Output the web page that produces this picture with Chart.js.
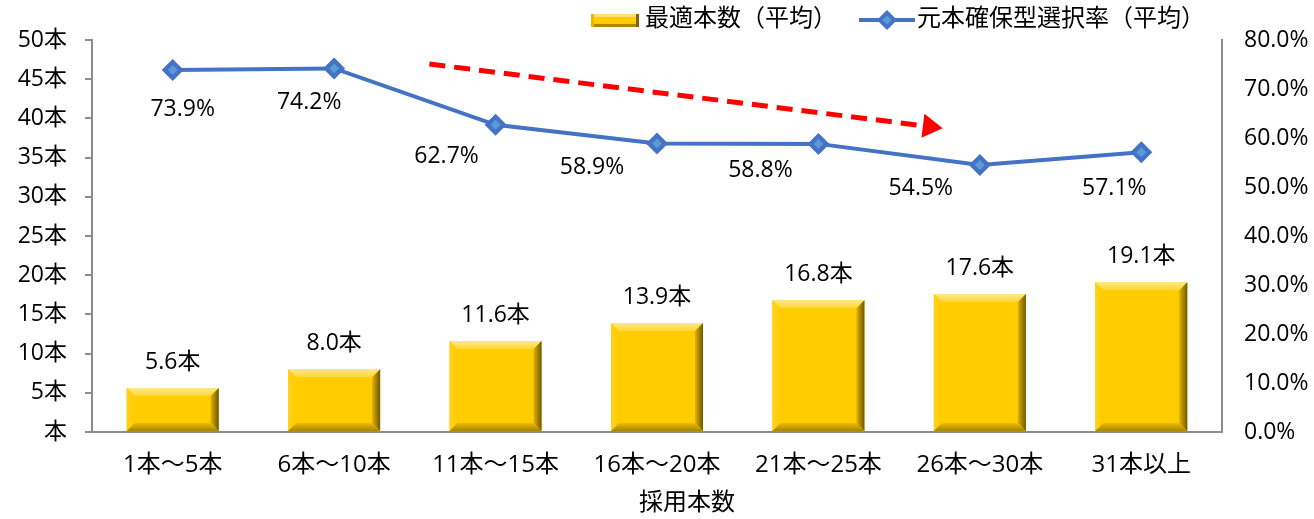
<!DOCTYPE html>
<html><head><meta charset="utf-8">
<script src="https://cdn.jsdelivr.net/npm/chart.js@4"></script>
<style>html,body{margin:0;padding:0;background:#fff;}canvas{display:block;}</style>
</head><body>
<canvas id="c" width="1314" height="519"></canvas>
<script>
const categories = ['1本～5本','6本～10本','11本～15本','16本～20本','21本～25本','26本～30本','31本以上'];
const optimalCounts = [5.6, 8.0, 11.6, 13.9, 16.8, 17.6, 19.1];
const retentionRates = [73.9, 74.2, 62.7, 58.9, 58.8, 54.5, 57.1];
const seriesNames = ['最適本数（平均）', '元本確保型選択率（平均）'];
const xTitle = '採用本数';
const leftTicks = [0,5,10,15,20,25,30,35,40,45,50];
const rightTicks = [0,10,20,30,40,50,60,70,80];
// trend arrow (annotation) in data units: [category index, percent]
const arrowFrom = [1.59, 75.1];
const arrowTo = [4.77, 62.0];

const FONT = '"Open Sans", "Noto Sans CJK JP", sans-serif';
const FS = 23;
const BLUE = '#4472C4';
// label nudges (px) for the line's data labels, as placed in the original
const lineLabelNudge = [[10,40],[-25,34],[-49,32],[-65,24],[-58,27],[-59,24],[-27,36]];

function bevelBar(ctx, x0, y0, x1, y1) {
  const b = 8;
  ctx.save();
  ctx.fillStyle = '#FFCC00';
  ctx.fillRect(x0, y0, x1 - x0, y1 - y0);
  let g = ctx.createLinearGradient(0, y0, 0, y0 + b);
  g.addColorStop(0, '#FFE88A'); g.addColorStop(1, '#FFD633');
  ctx.fillStyle = g;
  ctx.beginPath(); ctx.moveTo(x0, y0); ctx.lineTo(x1, y0); ctx.lineTo(x1 - b, y0 + b); ctx.lineTo(x0 + b, y0 + b); ctx.closePath(); ctx.fill();
  g = ctx.createLinearGradient(x0, 0, x0 + b, 0);
  g.addColorStop(0, '#FFD21A'); g.addColorStop(1, '#FFCC00');
  ctx.fillStyle = g;
  ctx.beginPath(); ctx.moveTo(x0, y0); ctx.lineTo(x0 + b, y0 + b); ctx.lineTo(x0 + b, y1 - b); ctx.lineTo(x0, y1); ctx.closePath(); ctx.fill();
  g = ctx.createLinearGradient(x1 - b, 0, x1, 0);
  g.addColorStop(0, '#E0B000'); g.addColorStop(1, '#6E5800');
  ctx.fillStyle = g;
  ctx.beginPath(); ctx.moveTo(x1, y0); ctx.lineTo(x1, y1); ctx.lineTo(x1 - b, y1 - b); ctx.lineTo(x1 - b, y0 + b); ctx.closePath(); ctx.fill();
  g = ctx.createLinearGradient(0, y1 - b, 0, y1);
  g.addColorStop(0, '#EDBB00'); g.addColorStop(1, '#A88400');
  ctx.fillStyle = g;
  ctx.beginPath(); ctx.moveTo(x0, y1); ctx.lineTo(x1, y1); ctx.lineTo(x1 - b, y1 - b); ctx.lineTo(x0 + b, y1 - b); ctx.closePath(); ctx.fill();
  ctx.restore();
}

function diamond(ctx, x, y, r) {
  ctx.save();
  ctx.fillStyle = BLUE;
  ctx.beginPath(); ctx.moveTo(x, y - r); ctx.lineTo(x + r, y); ctx.lineTo(x, y + r); ctx.lineTo(x - r, y); ctx.closePath(); ctx.fill();
  ctx.fillStyle = '#5B9BD5';
  const s = r * 0.45;
  ctx.beginPath(); ctx.moveTo(x, y - s); ctx.lineTo(x + s, y); ctx.lineTo(x, y + s); ctx.lineTo(x - s, y); ctx.closePath(); ctx.fill();
  ctx.restore();
}

function bevelBarSmall(ctx, x0, y0, x1, y1) {
  ctx.save();
  ctx.fillStyle = '#FFCC00'; ctx.fillRect(x0, y0, x1 - x0, y1 - y0);
  ctx.fillStyle = '#FFE070'; ctx.fillRect(x0, y0, x1 - x0, 3);
  ctx.fillStyle = '#B08800'; ctx.fillRect(x0, y1 - 3, x1 - x0, 3);
  ctx.fillStyle = '#E8B800'; ctx.fillRect(x0, y0, 3, y1 - y0);
  ctx.fillStyle = '#806400'; ctx.fillRect(x1 - 3, y0, 3, y1 - y0);
  ctx.restore();
}

const customDraw = {
  id: 'customDraw',
  beforeDatasetsDraw(chart) {
    const ctx = chart.ctx;
    chart.getDatasetMeta(0).data.forEach(el => {
      const w = el.width;
      bevelBar(ctx, el.x - w / 2, el.y, el.x + w / 2, el.base);
    });
  },
  afterDatasetsDraw(chart) {
    const ctx = chart.ctx;
    const lm = chart.getDatasetMeta(1);
    lm.data.forEach(p => diamond(ctx, p.x, p.y, 11));
    ctx.save();
    ctx.font = FS + 'px ' + FONT;
    ctx.fillStyle = '#000';
    ctx.textAlign = 'center';
    ctx.textBaseline = 'middle';
    chart.getDatasetMeta(0).data.forEach((el, i) => {
      ctx.fillText(optimalCounts[i].toFixed(1) + '本', el.x, el.y - 26);
    });
    lm.data.forEach((p, i) => {
      const n = lineLabelNudge[i];
      ctx.fillText(retentionRates[i].toFixed(1) + '%', p.x + n[0], p.y + n[1]);
    });
    // axis title (offset to the right as in the original)
    const xs = chart.scales.x, yr = chart.scales.y1;
    ctx.font = '24px ' + FONT;
    ctx.fillText(xTitle, (xs.left + xs.right) / 2 + 30, 503);
    ctx.restore();
    // arrow
    const ax0 = xs.getPixelForValue(arrowFrom[0]), ay0 = yr.getPixelForValue(arrowFrom[1]);
    const ax1 = xs.getPixelForValue(arrowTo[0]), ay1 = yr.getPixelForValue(arrowTo[1]);
    const ang = Math.atan2(ay1 - ay0, ax1 - ax0);
    const headL = 20, headW = 12;
    const bx = ax1 - headL * Math.cos(ang), by = ay1 - headL * Math.sin(ang);
    ctx.save();
    ctx.strokeStyle = '#FF0000';
    ctx.lineWidth = 5;
    ctx.setLineDash([16, 9]);
    ctx.beginPath(); ctx.moveTo(ax0, ay0); ctx.lineTo(bx, by); ctx.stroke();
    ctx.setLineDash([]);
    ctx.fillStyle = '#FF0000';
    ctx.beginPath();
    ctx.moveTo(ax1, ay1);
    ctx.lineTo(bx + headW * Math.sin(ang), by - headW * Math.cos(ang));
    ctx.lineTo(bx - headW * Math.sin(ang), by + headW * Math.cos(ang));
    ctx.closePath(); ctx.fill();
    ctx.restore();
    // legend
    ctx.save();
    const ly = 19;
    bevelBarSmall(ctx, 591, ly - 5, 639, ly + 8);
    ctx.font = '24px ' + FONT;
    ctx.fillStyle = '#000';
    ctx.textBaseline = 'middle';
    ctx.textAlign = 'left';
    ctx.fillText(seriesNames[0], 645, ly);
    ctx.strokeStyle = BLUE; ctx.lineWidth = 4;
    ctx.beginPath(); ctx.moveTo(859, ly + 1); ctx.lineTo(915, ly + 1); ctx.stroke();
    diamond(ctx, 887, ly + 1, 10);
    ctx.fillText(seriesNames[1], 917, ly);
    ctx.restore();
  }
};

new Chart(document.getElementById('c'), {
  data: {
    labels: categories,
    datasets: [
      { type: 'bar', label: seriesNames[0], data: optimalCounts, yAxisID: 'y',
        backgroundColor: 'rgba(0,0,0,0)', borderWidth: 0,
        barPercentage: 0.57, categoryPercentage: 1.0, order: 2 },
      { type: 'line', label: seriesNames[1], data: retentionRates, yAxisID: 'y1',
        borderColor: BLUE, borderWidth: 4, pointRadius: 0, pointHoverRadius: 0,
        tension: 0, fill: false, order: 1 }
    ]
  },
  options: {
    responsive: false,
    animation: false,
    devicePixelRatio: 1,
    events: [],
    layout: { padding: { top: 40, left: 0, right: 0, bottom: 0 } },
    plugins: { legend: { display: false }, tooltip: { enabled: false } },
    scales: {
      x: {
        grid: { display: false, drawTicks: false },
        border: { color: '#8C8C8C', width: 2 },
        ticks: { color: '#000', font: { size: 24, family: FONT }, padding: 19, maxRotation: 0 },
        title: { display: false },
        afterFit(s) { s.height = 87; }
      },
      y: {
        position: 'left', min: 0, max: 50,
        afterBuildTicks(s) { s.ticks = leftTicks.map(v => ({ value: v })); },
        grid: { display: true, drawOnChartArea: false, drawTicks: true, tickLength: 7, color: '#8C8C8C', lineWidth: 2 },
        border: { color: '#8C8C8C', width: 2 },
        ticks: { color: '#000', font: { size: FS, family: FONT }, padding: 18,
          callback: v => (v === 0 ? '' : v) + '本' },
        afterFit(s) { s.width = 92; }
      },
      y1: {
        position: 'right', min: 0, max: 80,
        afterBuildTicks(s) { s.ticks = rightTicks.map(v => ({ value: v })); },
        grid: { display: false, drawTicks: false },
        border: { color: '#8C8C8C', width: 2 },
        ticks: { color: '#000', font: { size: FS, family: FONT }, padding: 22,
          callback: v => v.toFixed(1) + '%' },
        afterFit(s) { s.width = 92; }
      }
    }
  },
  plugins: [customDraw]
});
</script>
</body></html>
